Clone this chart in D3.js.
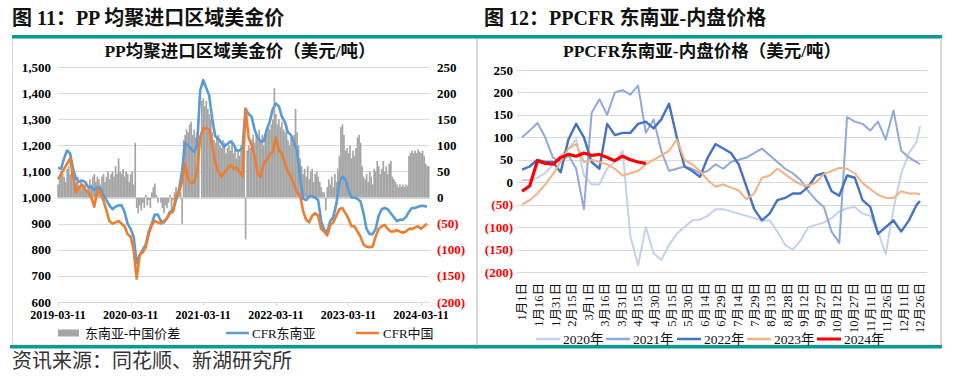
<!DOCTYPE html>
<html><head><meta charset="utf-8">
<script src="https://cdn.jsdelivr.net/npm/d3@7"></script>
<style>
body{margin:0;background:#fff;}
svg{display:block;}
text{font-family:'Liberation Serif','Noto Sans CJK SC',serif;}
</style></head><body>
<svg id="c" width="954" height="376"></svg>
<script>
// ---------------- DATA: left chart (PP homopolymer import prices) ----------------
const leftTickLabels = ["2019-03-11","2020-03-11","2021-03-11","2022-03-11","2023-03-11","2024-03-11"];
const leftTickMonths = [0,12,24,36,48,60];           // months after 2019-03-11
const leftYTicks = [600,700,800,900,1000,1100,1200,1300,1400,1500];
const leftYLabels = ["600","700","800","900","1,000","1,100","1,200","1,300","1,400","1,500"];
const spreadTicks = [-200,-150,-100,-50,0,50,100,150,200,250];
const spreadLabels = ["(200)","(150)","(100)","(50)","0","50","100","150","200","250"];
const lineStepMonths = 0.5;   // CFR series sampled twice a month
const barStepMonths = 0.25;   // spread sampled weekly
// CFR 东南亚 (USD/t)
const cfrSEA = [1115,1110,1150,1180,1170,1110,1070,1060,1065,1060,1040,1040,1030,1040,1035,1010,990,970,955,965,
 970,970,945,900,880,850,750,780,800,820,870,900,935,935,910,905,920,945,950,990,
 1030,1100,1210,1200,1185,1175,1200,1410,1450,1420,1390,1300,1235,1225,1210,1195,1205,1215,1205,1180,
 1180,1190,1340,1320,1310,1260,1230,1215,1215,1260,1290,1340,1360,1350,1310,1290,1250,1240,1210,1180,
 1080,995,990,1005,1005,1000,990,910,875,870,910,925,975,1060,1080,1070,1030,1000,1000,995,
 985,940,880,860,860,880,930,955,960,955,940,925,910,915,915,925,945,960,960,965,968,968,965];
// CFR 中国 (USD/t)
const cfrCN = [1070,1090,1110,1130,1150,1080,1020,1040,1050,1030,1020,1000,965,1030,1020,990,950,910,900,905,
 910,900,890,860,850,800,690,780,790,810,860,895,910,905,900,910,920,940,945,1005,
 1020,1060,1130,1070,1055,1060,1100,1230,1265,1265,1260,1200,1130,1100,1080,1095,1110,1125,1110,1115,
 1100,1080,1340,1230,1200,1160,1090,1080,1130,1145,1165,1175,1230,1180,1170,1130,1100,1080,1050,1020,
 1010,950,915,905,930,940,930,880,870,855,895,905,930,955,960,940,920,890,890,870,
 850,820,812,810,812,850,880,890,895,880,870,870,875,870,865,870,880,880,885,890,880,890,900];
// 东南亚-中国价差 (USD/t, right axis)
const spreadSEACN = [25,35,50,45, 40,30,55,60, 45,55,35,25, 30,40,20,35, 25,20,30,15, 20,35,25,40,
 45,30,40,35, 25,40,45,30, 40,50,35,45, 50,40,60,45, 75,50,45,55, 40,50,45,30,
 45,50,25,105, -20,-30,-15,-25, -10,-20,5,-15, -5,-20,10,20, 27,5,-10,0, -10,-20,-30,-15,
 -20,-10,5,-25, -5,10,20,0, 15,10,-50,110, 120,130,125,140, 145,120,130,115, 125,110,0,185,
 190,175,185,170, 160,150,125,110, 105,115,120,100, 95,110,105,85, 95,100,90,110, 85,95,75,90,
 80,100,90,110, -80,90,100,95, 110,120,105,125, 115,130,110,120, 100,115,125,135, 130,140,150,210,
 160,140,150,135, 145,130,125,140, 110,100,115,105, 120,170,125,100, 75,60,45,55, 40,60,35,50,
 55,30,45,50, 40,30,20,10, 10,-25,20,35, 25,40,20,45, 30,55,80,135, 140,120,90,95,
 85,100,75,90, 80,95,115,120, 105,60,40,35, 45,30,50,40, 25,55,50,70, 60,45,55,70,
 50,60,45,65, 70,40,35,30, 25,20,25,20, 25,20,25,22, 80,85,90,85, 90,85,92,88, 85,90,80,65, 60,60];

// ---------------- DATA: right chart (PPCFR 东南亚-内盘) ----------------
const rightTickLabels = ["1月1日","1月16日","1月31日","2月15日","3月1日","3月16日","3月31日","4月15日","4月30日",
 "5月15日","5月30日","6月14日","6月29日","7月14日","7月29日","8月13日","8月28日","9月12日","9月27日",
 "10月12日","10月27日","11月11日","11月26日","12月11日","12月26日"];
const rightYTicks = [-200,-150,-100,-50,0,50,100,150,200,250];
const rightYLabels = ["(200)","(150)","(100)","(50)","0","50","100","150","200","250"];
const yearNames = ["2020年","2021年","2022年","2023年","2024年"];
const sampleDays = d3.range(0, 358, 7).concat([360]);   // weekly x-categories (day of year)
const y2020 = [5,5,10,20,40,60,75,95,15,-5,-5,30,45,70,-120,-185,-100,-158,-173,-140,-115,-100,-85,-83,-75,-60,
 -60,-65,-70,-75,-80,-85,-85,-110,-140,-150,-130,-100,-95,-90,-80,-65,-58,-55,-70,-75,-110,-160,-60,20,65,90,125];
const y2021 = [100,115,132,100,55,45,60,30,-60,155,185,150,200,205,195,215,110,140,70,25,30,35,30,20,25,40,
 30,45,50,55,65,75,60,45,30,20,5,-20,-40,-55,-110,-135,145,135,130,115,135,95,160,70,55,45,40];
const y2022 = [28,35,50,45,45,22,95,130,100,45,30,130,105,110,110,130,135,120,140,175,100,35,25,12,55,85,
 75,65,40,-10,-60,-85,-70,-40,-35,-25,-25,-10,15,20,-20,-30,15,10,-40,-55,-115,-100,-85,-110,-85,-50,-42];
const y2023 = [-50,-40,-25,-5,18,45,75,85,45,50,45,40,30,15,20,25,40,50,60,70,95,50,40,25,5,-10,
 -5,-12,-18,-38,-25,10,15,30,18,5,-5,-8,0,18,25,32,30,20,-2,-15,-28,-35,-35,-20,-25,-25,-28];
const y2024 = [-20,-8,48,42,40,55,62,58,65,60,62,55,48,58,50,45,42];

// ---------------- DRAW ----------------
const svg = d3.select("#c");
const teal = "#0a9a94", grid = "#d9d9d9";
const bold = "bold";

function frame(x0, x1, titleX, title, subX, sub){
  svg.append("rect").attr("x",x0+0.5).attr("y",38).attr("width",x1-x0-1).attr("height",307)
    .attr("fill","none").attr("stroke",grid).attr("stroke-width",1);
  svg.append("rect").attr("x",x0).attr("y",35).attr("width",x1-x0).attr("height",3.5).attr("fill",teal);
  svg.append("rect").attr("x",x0-2).attr("y",345).attr("width",x1-x0+2).attr("height",3.5).attr("fill",teal);
  svg.append("text").attr("x",titleX).attr("y",25).attr("font-size",20).attr("font-weight",bold)
    .attr("fill","#111").text(title);
  svg.append("text").attr("x",subX).attr("y",57).attr("font-size",17.5).attr("font-weight",bold)
    .attr("text-anchor","middle").attr("fill","#111").text(sub);
}
frame(12, 477, 12, "图 11：PP 均聚进口区域美金价", 240, "PP均聚进口区域美金价（美元/吨）");
frame(477, 942, 484, "图 12：PPCFR 东南亚-内盘价格", 702, "PPCFR东南亚-内盘价格（美元/吨）");
svg.append("line").attr("x1",940.5).attr("x2",940.5).attr("y1",38).attr("y2",345).attr("stroke",grid);
svg.append("text").attr("x",12).attr("y",368).attr("font-size",20).attr("fill","#333")
  .text("资讯来源：同花顺、新湖研究所");

// ---- left chart ----
const xL = d3.scaleLinear().domain([0,60]).range([58,421]);
const yL = d3.scaleLinear().domain([600,1500]).range([302,67]);
const yS = d3.scaleLinear().domain([-200,250]).range([302,67]);
const gL = svg.append("g");
gL.selectAll(".gl").data(leftYTicks).join("line")
  .attr("x1",58).attr("x2",430).attr("y1",d=>Math.round(yL(d))+0.5).attr("y2",d=>Math.round(yL(d))+0.5)
  .attr("stroke",grid).attr("stroke-width",1);
gL.selectAll(".tk").data(leftTickMonths).join("line")
  .attr("x1",d=>Math.round(xL(d))+0.5).attr("x2",d=>Math.round(xL(d))+0.5).attr("y1",302).attr("y2",306)
  .attr("stroke",grid);
gL.selectAll(".yl").data(leftYTicks).join("text")
  .attr("x",51).attr("y",d=>yL(d)).attr("dy","0.35em").attr("text-anchor","end")
  .attr("font-size",13).attr("font-weight",bold).attr("fill","#000").text((d,i)=>leftYLabels[i]);
gL.selectAll(".yr").data(spreadTicks).join("text")
  .attr("x",437).attr("y",d=>yS(d)).attr("dy","0.35em").attr("text-anchor","start")
  .attr("font-size",13).attr("font-weight",bold).attr("fill",d=>d<0?"#ff0000":"#000").text((d,i)=>spreadLabels[i]);
gL.selectAll(".xl").data(leftTickMonths).join("text")
  .attr("x",d=>xL(d)).attr("y",319).attr("text-anchor","middle")
  .attr("font-size",12).attr("font-weight",bold).attr("fill","#000").text((d,i)=>leftTickLabels[i]);
// spread bars
const bw = xL(barStepMonths)-xL(0);
gL.selectAll(".bar").data(spreadSEACN).join("rect")
  .attr("x",(d,i)=>xL(i*barStepMonths)-bw/2).attr("width",bw*1.12)
  .attr("y",d=>Math.min(yS(d),yS(0))).attr("height",d=>Math.abs(yS(d)-yS(0)))
  .attr("fill","#a5a5a5");
const lineL = d3.line().x((d,i)=>xL(i*lineStepMonths)).y(d=>yL(d));
gL.append("path").datum(cfrSEA).attr("d",lineL).attr("fill","none").attr("stroke","#5b9bd5").attr("stroke-width",2.6).attr("stroke-linejoin","round");
gL.append("path").datum(cfrCN).attr("d",lineL).attr("fill","none").attr("stroke","#ed7d31").attr("stroke-width",2.6).attr("stroke-linejoin","round");
// legend
gL.append("rect").attr("x",58).attr("y",329.5).attr("width",21).attr("height",7).attr("fill","#a5a5a5");
gL.append("text").attr("x",85).attr("y",333).attr("dy","0.35em").attr("font-size",13).attr("fill","#111").text("东南亚-中国价差");
gL.append("line").attr("x1",226).attr("x2",249).attr("y1",333).attr("y2",333).attr("stroke","#5b9bd5").attr("stroke-width",2.5);
gL.append("text").attr("x",252).attr("y",333).attr("dy","0.35em").attr("font-size",13).attr("fill","#111").text("CFR东南亚");
gL.append("line").attr("x1",356).attr("x2",379).attr("y1",333).attr("y2",333).attr("stroke","#ed7d31").attr("stroke-width",2.5);
gL.append("text").attr("x",383).attr("y",333).attr("dy","0.35em").attr("font-size",13).attr("fill","#111").text("CFR中国");

// ---- right chart ----
const xR = d3.scaleLinear().domain([0,360]).range([522,920]);
const yR = d3.scaleLinear().domain([-200,250]).range([272,70]);
const gR = svg.append("g");
gR.selectAll(".gl").data(rightYTicks).join("line")
  .attr("x1",517).attr("x2",927).attr("y1",d=>Math.round(yR(d))+0.5).attr("y2",d=>Math.round(yR(d))+0.5)
  .attr("stroke",grid).attr("stroke-width",1);
gR.selectAll(".yl").data(rightYTicks).join("text")
  .attr("x",513).attr("y",d=>yR(d)).attr("dy","0.35em").attr("text-anchor","end")
  .attr("font-size",13).attr("font-weight",bold).attr("fill",d=>d<0?"#ff0000":"#000").text((d,i)=>rightYLabels[i]);
gR.selectAll(".xl").data(rightTickLabels).join("text")
  .attr("transform",(d,i)=>`translate(${xR(i*15)},283) rotate(-90)`).attr("dy","0.35em")
  .attr("text-anchor","end").attr("font-size",12.5).attr("fill","#111").text(d=>d);
const yearSeries = [y2020,y2021,y2022,y2023,y2024];
const yearColors = ["#c5d0ea","#8fa9dc","#4472c4","#f4b183","#ff0000"];
const yearWidths = [2,2,2.4,2,3.2];
const lineR = d3.line().x((d,i)=>xR(sampleDays[i])).y(d=>yR(d));
yearSeries.forEach((s,k)=>{
  gR.append("path").datum(s).attr("d",lineR).attr("fill","none").attr("stroke",yearColors[k])
    .attr("stroke-width",yearWidths[k]).attr("stroke-linejoin","round");
});
const legX = [536,606,677,747,817];
yearNames.forEach((n,k)=>{
  gR.append("line").attr("x1",legX[k]).attr("x2",legX[k]+24).attr("y1",339).attr("y2",339)
    .attr("stroke",yearColors[k]).attr("stroke-width",k===4?3:2.5);
  gR.append("text").attr("x",legX[k]+27).attr("y",339).attr("dy","0.35em").attr("font-size",13.5).attr("fill","#111").text(n);
});
</script>
</body></html>
